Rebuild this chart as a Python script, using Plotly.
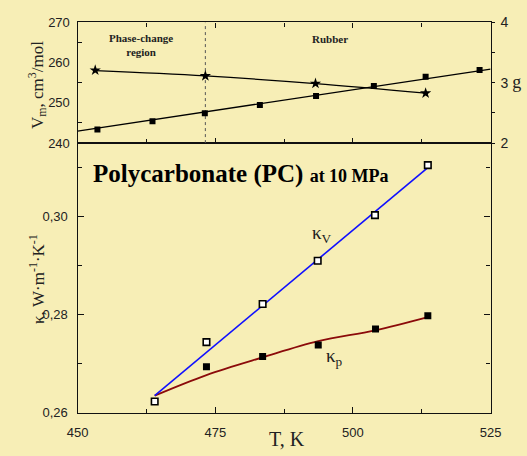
import plotly.graph_objects as go

# ---------------- data ----------------
# upper panel: molar volume Vm (cm3/mol) vs T (K)
T_vm = [453.6, 463.6, 473.1, 483.1, 493.3, 503.8, 513.2, 523.0]
Vm = [243.4, 245.4, 247.4, 249.5, 251.7, 254.2, 256.5, 258.2]
T_vm_fit = [450.0, 525.0]
Vm_fit = [243.0, 258.4]

# upper panel: stars (right axis, g)
T_g = [453.2, 473.2, 493.2, 513.2]
g_vals = [3.207, 3.113, 2.987, 2.827]
T_g_fit = [453.2, 473.2, 493.2, 513.2]
g_fit = [3.200, 3.113, 2.987, 2.827]
g_tickvals = [2, 3, 4]
g_ticktext = ["2", "3 <span style='font-family:Liberation Serif;font-size:18px'>g</span>", "4"]

# phase-change boundary
T_boundary = 473.2

# lower panel: thermal conductivity
T_kv = [464.0, 473.4, 483.6, 493.6, 504.0, 513.6]
kv = [0.2623, 0.2744, 0.2822, 0.2910, 0.3003, 0.3105]
T_kv_fit = [464.0, 513.6]
kv_fit = [0.2635, 0.3100]

T_kp = [473.4, 483.6, 493.7, 504.1, 513.6]
kp = [0.2694, 0.2715, 0.2738, 0.2771, 0.2798]
T_kp_fit = [464.0, 473.4, 483.6, 493.7, 504.0, 513.6]
kp_fit = [0.2635, 0.2677, 0.2713, 0.2746, 0.2768, 0.2795]

x_range = [450, 525]
x_ticks = [450, 475, 500, 525]
k_range = [0.26, 0.315]
vm_range = [240, 270]
g_range = [2, 4]

# ---------------- layout helpers ----------------
W, H = 527, 456
def px(x):
    return x / W
def py(y):
    return 1 - y / H

x_dom = [px(69.5), px(500.5)]
low_dom = [py(419.5), py(140)]
up_dom = [py(140), py(15)]

SERIF = "Liberation Serif"
SANS = "Liberation Sans"
AX = "#111111"

fig = go.Figure()

# upper panel traces
fig.add_trace(go.Scatter(x=[T_boundary, T_boundary], y=vm_range, mode="lines",
                         line=dict(color="#555555", width=1, dash="dot"),
                         xaxis="x2", yaxis="y2", showlegend=False, hoverinfo="skip"))
fig.add_trace(go.Scatter(x=T_vm_fit, y=Vm_fit, mode="lines",
                         line=dict(color="black", width=1.3),
                         xaxis="x2", yaxis="y2", showlegend=False))
fig.add_trace(go.Scatter(x=T_vm, y=Vm, mode="markers",
                         marker=dict(symbol="square", size=6, color="black"),
                         xaxis="x2", yaxis="y2", showlegend=False))
fig.add_trace(go.Scatter(x=T_g_fit, y=g_fit, mode="lines",
                         line=dict(color="black", width=1.3, shape="spline"),
                         xaxis="x2", yaxis="y3", showlegend=False))
fig.add_trace(go.Scatter(x=T_g, y=g_vals, mode="markers",
                         marker=dict(symbol="star", size=8.5, color="black"),
                         xaxis="x2", yaxis="y3", showlegend=False))

# lower panel traces
fig.add_trace(go.Scatter(x=T_kp_fit, y=kp_fit, mode="lines",
                         line=dict(color="#8b0a0a", width=1.8, shape="spline"),
                         xaxis="x", yaxis="y", showlegend=False))
fig.add_trace(go.Scatter(x=T_kv_fit, y=kv_fit, mode="lines",
                         line=dict(color="#1010ff", width=1.6),
                         xaxis="x", yaxis="y", showlegend=False))
fig.add_trace(go.Scatter(x=T_kp, y=kp, mode="markers",
                         marker=dict(symbol="square", size=7, color="black"),
                         xaxis="x", yaxis="y", showlegend=False))
fig.add_trace(go.Scatter(x=T_kv, y=kv, mode="markers",
                         marker=dict(symbol="square", size=6.5, color="white",
                                     line=dict(color="black", width=1.6)),
                         xaxis="x", yaxis="y", showlegend=False))

tickfont = dict(family=SANS, size=13, color="#222222")

fig.update_layout(
    width=W, height=H,
    margin=dict(l=0, r=0, t=0, b=0),
    paper_bgcolor="#f7eeb6",
    plot_bgcolor="rgba(0,0,0,0)",
    separators=", ",
    showlegend=False,
    xaxis=dict(domain=x_dom, anchor="y", range=x_range, tickvals=x_ticks,
               showline=True, linecolor=AX, linewidth=1.3, mirror=True,
               ticks="inside", ticklen=6, tickcolor=AX, tickwidth=1.2,
               minor=dict(dtick=12.5, tick0=450, ticks="inside", ticklen=4,
                          tickcolor=AX, tickwidth=1.2),
               showgrid=False, zeroline=False, tickfont=tickfont,
               ticklabelstandoff=7),
    yaxis=dict(domain=low_dom, anchor="x", range=k_range,
               tick0=0.26, dtick=0.02, tickformat=".2f",
               showline=True, linecolor=AX, linewidth=1.3, mirror="ticks",
               ticks="inside", ticklen=6, tickcolor=AX, tickwidth=1.2,
               minor=dict(dtick=0.01, tick0=0.26, ticks="inside", ticklen=4,
                          tickcolor=AX, tickwidth=1.2),
               showgrid=False, zeroline=False, tickfont=tickfont,
               ticklabelstandoff=6),
    xaxis2=dict(domain=x_dom, anchor="y2", range=x_range, tickvals=x_ticks,
                showticklabels=False,
                showline=True, linecolor=AX, linewidth=1.3, mirror="ticks",
                ticks="inside", ticklen=5, tickcolor=AX, tickwidth=1.2,
                minor=dict(dtick=12.5, tick0=450, ticks="inside", ticklen=4,
                           tickcolor=AX, tickwidth=1.2),
                showgrid=False, zeroline=False),
    yaxis2=dict(domain=up_dom, anchor="x2", range=vm_range, dtick=10, tick0=240,
                showline=True, linecolor=AX, linewidth=1.3,
                ticks="", minor=dict(dtick=5, tick0=240, ticks="inside", ticklen=4,
                                     tickcolor=AX, tickwidth=1.2),
                showgrid=False, zeroline=False, tickfont=tickfont,
                ticklabelstandoff=4),
    yaxis3=dict(overlaying="y2", side="right", anchor="x2", range=g_range,
                tickvals=g_tickvals, ticktext=g_ticktext,
                showline=True, linecolor=AX, linewidth=1.3,
                ticks="outside", ticklen=3, tickcolor=AX, tickwidth=1.2,
                minor=dict(dtick=0.5, tick0=2, ticks="outside", ticklen=3,
                           tickcolor=AX, tickwidth=1.2),
                showgrid=False, zeroline=False,
                tickfont=dict(family=SANS, size=14, color="#222222"),
                ticklabelstandoff=3),
)

annots = [
    dict(text="V<sub>m</sub>, cm<sup>3</sup>/mol", x=px(27), y=py(80), textangle=-90,
         font=dict(family=SERIF, size=17, color="#222222")),
    dict(text="κ, W·m<sup>-1</sup>·K<sup>-1</sup>", x=px(27), y=py(281), textangle=-90,
         font=dict(family=SERIF, size=17, color="#222222")),
    dict(text="T, K", x=px(288), y=py(447),
         font=dict(family=SERIF, size=20, color="#222222")),
    dict(text="Phase-change<br>region", x=px(136), y=py(38),
         font=dict(family=SERIF, size=11, color="#222222", weight="bold")),
    dict(text="Rubber", x=px(333), y=py(32),
         font=dict(family=SERIF, size=11, color="#222222", weight="bold")),
    dict(text="Polycarbonate (PC) <span style='font-size:18px'>at 10 MPa</span>",
         x=px(84), y=py(172), xanchor="left",
         font=dict(family=SERIF, size=25, color="black", weight="bold")),
    dict(text="κ<sub>V</sub>", x=px(325), y=py(234),
         font=dict(family=SERIF, size=19, color="#222222")),
    dict(text="κ<sub>p</sub>", x=px(338), y=py(362),
         font=dict(family=SERIF, size=19, color="#222222")),
]
for a in annots:
    a.setdefault("xanchor", "center")
    fig.add_annotation(xref="paper", yref="paper", showarrow=False, yanchor="middle", **a)

fig.write_html("out.html")
